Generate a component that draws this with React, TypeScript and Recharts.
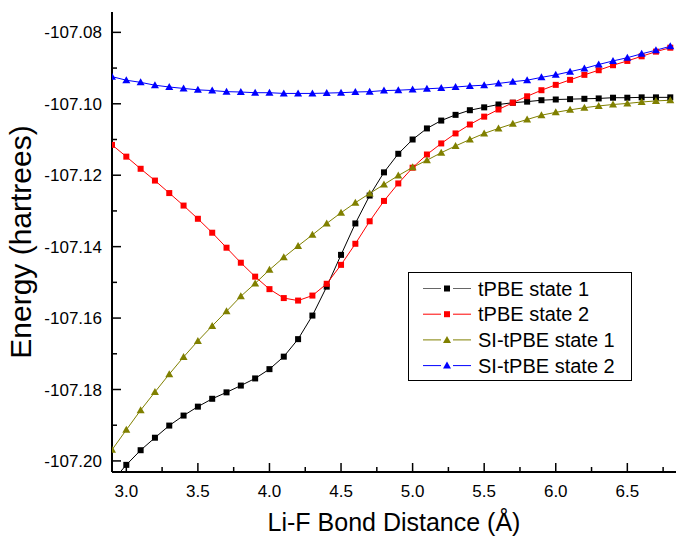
import { LineChart, Line, XAxis, YAxis, Legend } from "recharts";

const FONT = '"Liberation Sans", Arial, sans-serif';

// Li-F distance (Å)
const distances = [
  2.9, 3.0, 3.1, 3.2, 3.3, 3.4, 3.5, 3.6, 3.7, 3.8, 3.9, 4.0, 4.1, 4.2, 4.3, 4.4, 4.5, 4.6, 4.7, 4.8,
  4.9, 5.0, 5.1, 5.2, 5.3, 5.4, 5.5, 5.6, 5.7, 5.8, 5.9, 6.0, 6.1, 6.2, 6.3, 6.4, 6.5, 6.6, 6.7, 6.8,
];

// energies (hartrees)
const tpbeState1 = [
  -107.2058, -107.2011, -107.197, -107.1935, -107.1901, -107.1873, -107.1848, -107.1826, -107.1808, -107.1789,
  -107.1769, -107.1743, -107.1708, -107.1659, -107.1593, -107.1512, -107.1423, -107.1335, -107.1257, -107.1192,
  -107.114, -107.11, -107.1069, -107.1047, -107.1031, -107.1018, -107.101, -107.1002, -107.0997, -107.0994,
  -107.099, -107.0988, -107.0987, -107.0986, -107.0985, -107.0983, -107.0983, -107.0982, -107.0982, -107.0982,
];
const tpbeState2 = [
  -107.1115, -107.1148, -107.1182, -107.1215, -107.125, -107.1285, -107.1322, -107.1361, -107.1403, -107.1445,
  -107.1484, -107.1519, -107.1544, -107.1551, -107.1537, -107.1504, -107.1451, -107.1392, -107.1329, -107.1272,
  -107.1223, -107.1179, -107.1142, -107.1111, -107.1083, -107.1058, -107.1036, -107.1016, -107.0997, -107.0979,
  -107.0962, -107.0947, -107.0933, -107.0919, -107.0906, -107.0892, -107.088, -107.0867, -107.0854, -107.0843,
];
const siTpbeState1 = [
  -107.1969, -107.1913, -107.1858, -107.1807, -107.1757, -107.1709, -107.1664, -107.1622, -107.1581, -107.1539,
  -107.1503, -107.1465, -107.143, -107.1398, -107.1367, -107.1335, -107.1305, -107.1277, -107.1251, -107.1226,
  -107.1201, -107.1178, -107.1158, -107.1137, -107.1118, -107.11, -107.1083, -107.1069, -107.1056, -107.1044,
  -107.1032, -107.1024, -107.1017, -107.1011, -107.1006, -107.1002, -107.0999, -107.0995, -107.0992, -107.099,
];
const siTpbeState2 = [
  -107.0924, -107.0934, -107.094, -107.0948, -107.0953, -107.0957, -107.0961, -107.0963, -107.0966, -107.0967,
  -107.0969, -107.0969, -107.0971, -107.0971, -107.0971, -107.097, -107.0969, -107.0967, -107.0966, -107.0963,
  -107.0962, -107.096, -107.0958, -107.0956, -107.0953, -107.095, -107.0948, -107.0943, -107.0938, -107.0934,
  -107.0926, -107.0919, -107.091, -107.0901, -107.089, -107.088, -107.0871, -107.086, -107.085, -107.0839,
];

const xMajorTicks = [3.0, 3.5, 4.0, 4.5, 5.0, 5.5, 6.0, 6.5];
const xMinorTicks = [3.25, 3.75, 4.25, 4.75, 5.25, 5.75, 6.25, 6.75];
const yMajorTicks = [-107.2, -107.18, -107.16, -107.14, -107.12, -107.1, -107.08];
const yMinorTicks = [-107.19, -107.17, -107.15, -107.13, -107.11, -107.09];

const X_DOMAIN = [2.9, 6.84];
const Y_DOMAIN = [-107.2031, -107.0743];

const series = [
  { key: "tpbe1", name: "tPBE state 1", color: "#000000", legendLine: "#666666", shape: "square" },
  { key: "tpbe2", name: "tPBE state 2", color: "#ff0000", legendLine: "#ff0000", shape: "square" },
  { key: "si1", name: "SI-tPBE state 1", color: "#808000", legendLine: "#808000", shape: "triangle" },
  { key: "si2", name: "SI-tPBE state 2", color: "#0000ff", legendLine: "#0000ff", shape: "triangle" },
];

const rows = distances.map((d, i) => ({
  d,
  tpbe1: tpbeState1[i],
  tpbe2: tpbeState2[i],
  si1: siTpbeState1[i],
  si2: siTpbeState2[i],
}));

const xTicks = [...xMajorTicks, ...xMinorTicks].sort((a, b) => a - b);
const yTicks = [...yMajorTicks, ...yMinorTicks].sort((a, b) => a - b);

const isMajor = (v: number, majors: number[]) => majors.some((m) => Math.abs(m - v) < 1e-6);

function Marker({ cx, cy, color, shape, size = 6 }: any) {
  if (cx == null || cy == null) return null;
  const h = size / 2;
  if (shape === "triangle") {
    const t = h + 1;
    return <polygon points={`${cx},${cy - t} ${cx + t},${cy + t - 1} ${cx - t},${cy + t - 1}`} fill={color} />;
  }
  return <rect x={cx - h} y={cy - h} width={size} height={size} fill={color} />;
}

function BottomTick({ x, y, payload }: any) {
  const major = isMajor(payload.value, xMajorTicks);
  return (
    <g>
      <line x1={x} x2={x} y1={y} y2={y - (major ? 9 : 5)} stroke="#000" strokeWidth={1.5} />
      {major && (
        <text x={x} y={y + 25} textAnchor="middle" fontSize={17} fontFamily={FONT} fill="#000">
          {payload.value.toFixed(1)}
        </text>
      )}
    </g>
  );
}

function TopTick({ x, y, payload }: any) {
  const major = isMajor(payload.value, xMajorTicks);
  return <line x1={x} x2={x} y1={y} y2={y + (major ? 9 : 5)} stroke="#000" strokeWidth={1.5} />;
}

function LeftTick({ x, y, payload }: any) {
  const major = isMajor(payload.value, yMajorTicks);
  return (
    <g>
      <line x1={x} x2={x + (major ? 9 : 5)} y1={y} y2={y} stroke="#000" strokeWidth={1.5} />
      {major && (
        <text x={x - 10} y={y + 6} textAnchor="end" fontSize={17} fontFamily={FONT} fill="#000">
          {payload.value.toFixed(2)}
        </text>
      )}
    </g>
  );
}

function RightTick({ x, y, payload }: any) {
  const major = isMajor(payload.value, yMajorTicks);
  return <line x1={x} x2={x - (major ? 9 : 5)} y1={y} y2={y} stroke="#000" strokeWidth={1.5} />;
}

function LegendBox() {
  return (
    <svg width={224} height={110} style={{ display: "block" }}>
      <rect x={0.5} y={0.5} width={223} height={108} fill="#fff" stroke="#000" strokeWidth={1} />
      {series.map((s, i) => {
        const cy = 16.5 + i * 25.7;
        return (
          <g key={s.key}>
            <line x1={15} x2={33} y1={cy} y2={cy} stroke={s.legendLine} strokeWidth={1} />
            <line x1={45} x2={63} y1={cy} y2={cy} stroke={s.legendLine} strokeWidth={1} />
            <Marker cx={39} cy={cy} color={s.color} shape={s.shape} size={6} />
            <text x={70} y={cy + 7} fontSize={20} fontFamily={FONT} fill="#000">
              {s.name}
            </text>
          </g>
        );
      })}
    </svg>
  );
}

export default function App() {
  return (
    <div style={{ position: "absolute", left: 0, top: 0, background: "#fff" }}>
      <LineChart width={676} height={536} data={rows} margin={{ top: 12, right: 0, bottom: 0, left: 0 }}>
        <XAxis
          dataKey="d"
          type="number"
          domain={X_DOMAIN}
          allowDataOverflow
          ticks={xTicks}
          interval={0}
          tickSize={0}
          tickMargin={0}
          height={64}
          tick={<BottomTick />}
          axisLine={{ stroke: "#000", strokeWidth: 2 }}
          label={(props: any) => {
            const vb = props.viewBox;
            return (
              <text x={vb.x + vb.width / 2} y={vb.y + 59} textAnchor="middle" fontSize={25} fontFamily={FONT} fill="#000">
                Li-F Bond Distance (Å)
              </text>
            );
          }}
        />
        <XAxis
          xAxisId="top"
          orientation="top"
          dataKey="d"
          type="number"
          domain={X_DOMAIN}
          allowDataOverflow
          ticks={xTicks}
          interval={0}
          tickSize={0}
          tickMargin={0}
          height={0}
          tick={<TopTick />}
          axisLine={{ stroke: "#000", strokeWidth: 2 }}
        />
        <YAxis
          type="number"
          domain={Y_DOMAIN}
          allowDataOverflow
          ticks={yTicks}
          interval={0}
          tickSize={0}
          tickMargin={0}
          width={112}
          tick={<LeftTick />}
          axisLine={{ stroke: "#000", strokeWidth: 2 }}
          label={(props: any) => {
            const vb = props.viewBox;
            const cy = vb.y + vb.height / 2;
            return (
              <text
                x={31}
                y={cy}
                textAnchor="middle"
                fontSize={30}
                fontFamily={FONT}
                fill="#000"
                transform={`rotate(-90, 31, ${cy})`}
              >
                Energy (hartrees)
              </text>
            );
          }}
        />
        <YAxis
          yAxisId="right"
          orientation="right"
          type="number"
          domain={Y_DOMAIN}
          allowDataOverflow
          ticks={yTicks}
          interval={0}
          tickSize={0}
          tickMargin={0}
          width={0}
          tick={<RightTick />}
          axisLine={{ stroke: "#000", strokeWidth: 2 }}
        />
        <Legend
          layout="vertical"
          align="center"
          verticalAlign="middle"
          content={() => <LegendBox />}
          wrapperStyle={{ left: 408, top: 272, width: 224, height: 110 }}
        />
        {series.map((s) => (
          <Line
            key={s.key}
            dataKey={s.key}
            name={s.name}
            type="linear"
            stroke={s.color}
            strokeWidth={1}
            isAnimationActive={false}
            dot={(p: any) => <Marker key={`${s.key}-${p.index}`} cx={p.cx} cy={p.cy} color={s.color} shape={s.shape} size={6} />}
            activeDot={false}
          />
        ))}
      </LineChart>
    </div>
  );
}
